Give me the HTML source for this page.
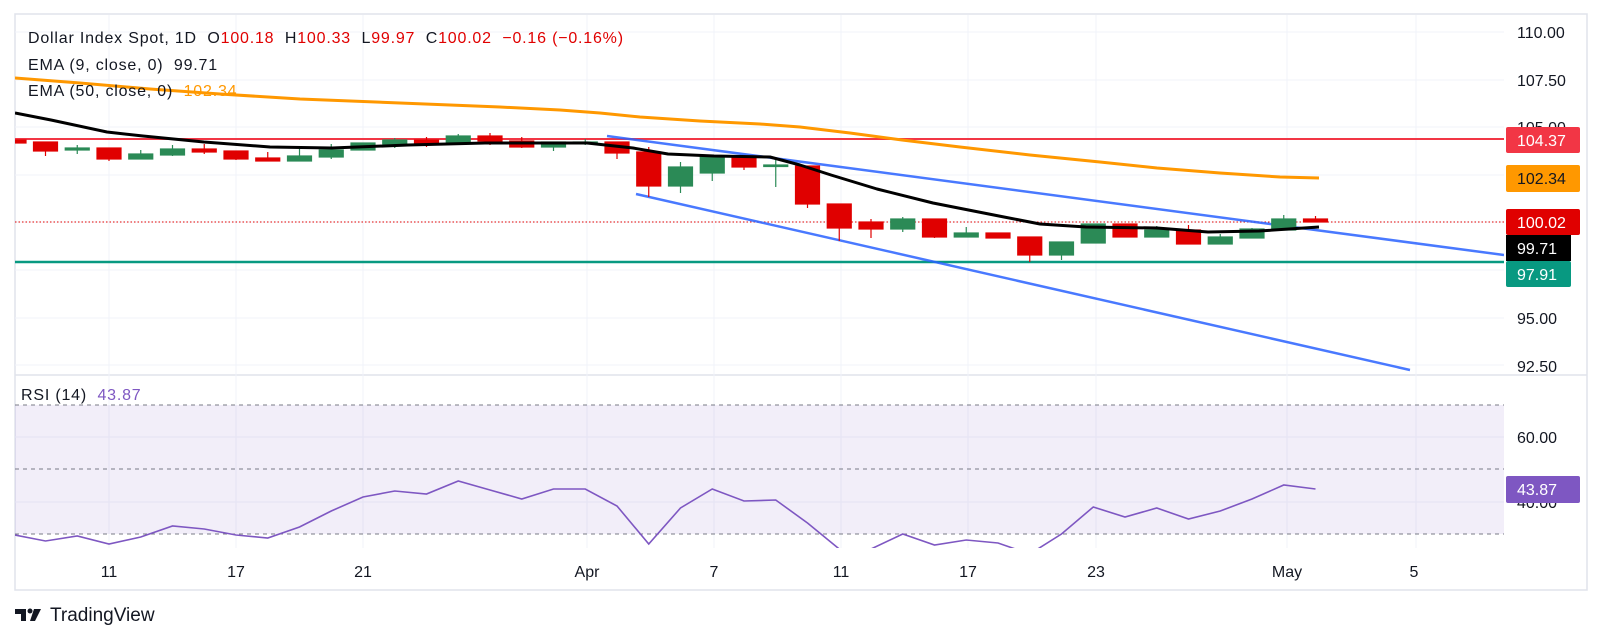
<!DOCTYPE html>
<html><head><meta charset="utf-8"><style>
html,body{margin:0;padding:0;background:#fff;width:1602px;height:644px;overflow:hidden}
svg{display:block;font-family:"Liberation Sans",sans-serif}
</style></head><body>
<svg width="1602" height="644" viewBox="0 0 1602 644" xmlns="http://www.w3.org/2000/svg">
<defs>
<clipPath id="pc"><rect x="15" y="14" width="1489" height="361"/></clipPath>
<clipPath id="rc"><rect x="15" y="376" width="1489" height="172"/></clipPath>
</defs>
<rect x="15" y="14" width="1572" height="576" fill="#fff" stroke="#e0e3eb" stroke-width="1.5"/>
<line x1="15" y1="375" x2="1587" y2="375" stroke="#e0e3eb" stroke-width="1.5"/>
<g stroke="#f0f3fa" stroke-width="1">
<line x1="15" y1="32" x2="1504" y2="32"/><line x1="15" y1="80" x2="1504" y2="80"/>
<line x1="15" y1="127" x2="1504" y2="127"/><line x1="15" y1="175" x2="1504" y2="175"/>
<line x1="15" y1="222" x2="1504" y2="222"/><line x1="15" y1="270" x2="1504" y2="270"/>
<line x1="15" y1="318" x2="1504" y2="318"/><line x1="15" y1="365" x2="1504" y2="365"/>
<line x1="15" y1="437" x2="1504" y2="437"/><line x1="15" y1="502" x2="1504" y2="502"/>
<line x1="109" y1="15" x2="109" y2="548"/><line x1="236" y1="15" x2="236" y2="548"/>
<line x1="363" y1="15" x2="363" y2="548"/><line x1="587" y1="15" x2="587" y2="548"/>
<line x1="714" y1="15" x2="714" y2="548"/><line x1="841" y1="15" x2="841" y2="548"/>
<line x1="968" y1="15" x2="968" y2="548"/><line x1="1096" y1="15" x2="1096" y2="548"/>
<line x1="1287" y1="15" x2="1287" y2="548"/><line x1="1416" y1="15" x2="1416" y2="548"/>
</g>
<g clip-path="url(#pc)">
<line x1="15" y1="139" x2="1504" y2="139" stroke="#f23645" stroke-width="2"/>
<line x1="15" y1="262" x2="1504" y2="262" stroke="#089981" stroke-width="2.5"/>
<line x1="15" y1="222" x2="1504" y2="222" stroke="#e00000" stroke-width="1" stroke-dasharray="1.5,2"/>
<polyline fill="none" stroke="#ff9800" stroke-width="3" stroke-linejoin="round" points="15,78 80,83 150,89 220,94 300,99 400,103 500,107 560,110 600,113 640,117 700,121 760,124 800,127 850,133 902,140 960,147 1030,155 1100,162 1157,168 1220,173 1280,177 1319,178"/>
<line x1="607" y1="136" x2="1504" y2="255" stroke="#2962ff" stroke-opacity="0.85" stroke-width="2.5"/>
<line x1="636" y1="194" x2="1410" y2="370" stroke="#2962ff" stroke-opacity="0.85" stroke-width="2.5"/>
<g stroke-width="1.2">
<g fill="#e00000" stroke="#e00000">
<rect x="2" y="140" width="24" height="3"/>
<line x1="45.5" y1="142" x2="45.5" y2="156"/><rect x="33.5" y="142" width="24" height="9"/>
<line x1="109" y1="148" x2="109" y2="161"/><rect x="97" y="148" width="24" height="11"/>
<line x1="204.25" y1="144" x2="204.25" y2="154"/><rect x="192.25" y="149" width="24" height="3"/>
<line x1="236" y1="151" x2="236" y2="160"/><rect x="224" y="151" width="24" height="8"/>
<line x1="267.75" y1="152" x2="267.75" y2="161"/><rect x="255.75" y="158" width="24" height="3"/>
<line x1="426.5" y1="137" x2="426.5" y2="147"/><rect x="414.5" y="140" width="24" height="3"/>
<line x1="490" y1="133" x2="490" y2="145"/><rect x="478" y="136" width="24" height="5"/>
<line x1="521.75" y1="137" x2="521.75" y2="148"/><rect x="509.75" y="141" width="24" height="6"/>
<line x1="617" y1="142" x2="617" y2="159"/><rect x="605" y="142" width="24" height="11"/>
<line x1="648.75" y1="147" x2="648.75" y2="197"/><rect x="636.75" y="152" width="24" height="34"/>
<line x1="744" y1="156" x2="744" y2="170"/><rect x="732" y="156" width="24" height="11"/>
<line x1="807.5" y1="166" x2="807.5" y2="208"/><rect x="795.5" y="166" width="24" height="38"/>
<line x1="839.25" y1="204" x2="839.25" y2="241"/><rect x="827.25" y="204" width="24" height="24"/>
<line x1="871" y1="219" x2="871" y2="238"/><rect x="859" y="222" width="24" height="7"/>
<line x1="934.5" y1="219" x2="934.5" y2="238"/><rect x="922.5" y="219" width="24" height="18"/>
<rect x="986" y="233" width="24" height="5"/>
<line x1="1029.75" y1="237" x2="1029.75" y2="262"/><rect x="1017.75" y="237" width="24" height="18"/>
<rect x="1113" y="224" width="24" height="13"/>
<line x1="1188.5" y1="225" x2="1188.5" y2="244"/><rect x="1176.5" y="230" width="24" height="14"/>
<line x1="1315.5" y1="216" x2="1315.5" y2="222"/><rect x="1303.5" y="219" width="24" height="3"/>
</g>
<g fill="#2b8a56" stroke="#2b8a56">
<line x1="77.25" y1="145" x2="77.25" y2="154"/><rect x="65.25" y="148" width="24" height="2"/>
<line x1="140.75" y1="150" x2="140.75" y2="159"/><rect x="128.75" y="154" width="24" height="5"/>
<line x1="172.5" y1="145" x2="172.5" y2="156"/><rect x="160.5" y="149" width="24" height="6"/>
<line x1="299.5" y1="148" x2="299.5" y2="161"/><rect x="287.5" y="156" width="24" height="5"/>
<line x1="331.25" y1="144" x2="331.25" y2="159"/><rect x="319.25" y="150" width="24" height="7"/>
<rect x="351" y="143" width="24" height="7"/>
<line x1="394.75" y1="138" x2="394.75" y2="148"/><rect x="382.75" y="140" width="24" height="4"/>
<line x1="458.25" y1="134" x2="458.25" y2="143"/><rect x="446.25" y="136" width="24" height="7"/>
<line x1="553.5" y1="142" x2="553.5" y2="151"/><rect x="541.5" y="142" width="24" height="5"/>
<line x1="585.25" y1="139" x2="585.25" y2="145"/><rect x="573.25" y="142" width="24" height="1.5"/>
<line x1="680.5" y1="162" x2="680.5" y2="193"/><rect x="668.5" y="167" width="24" height="19"/>
<line x1="712.25" y1="156" x2="712.25" y2="181"/><rect x="700.25" y="156" width="24" height="17"/>
<line x1="775.75" y1="160" x2="775.75" y2="187"/><rect x="763.75" y="165" width="24" height="1.5"/>
<line x1="902.75" y1="217" x2="902.75" y2="232"/><rect x="890.75" y="219" width="24" height="10"/>
<line x1="966.25" y1="227" x2="966.25" y2="237"/><rect x="954.25" y="233" width="24" height="4"/>
<line x1="1061.5" y1="242" x2="1061.5" y2="260"/><rect x="1049.5" y="242" width="24" height="13"/>
<rect x="1081.25" y="224" width="24" height="19"/>
<line x1="1156.75" y1="226" x2="1156.75" y2="237"/><rect x="1144.75" y="230" width="24" height="7"/>
<line x1="1220.25" y1="234" x2="1220.25" y2="244"/><rect x="1208.25" y="237" width="24" height="7"/>
<line x1="1252" y1="228" x2="1252" y2="238"/><rect x="1240" y="229" width="24" height="9"/>
<line x1="1283.75" y1="215" x2="1283.75" y2="230"/><rect x="1271.75" y="219" width="24" height="11"/>
</g>
</g>
<polyline fill="none" stroke="#000" stroke-width="3" stroke-linejoin="round" points="15,113 51,120 107,132 143,136 204,142 270,147 332,148 408,145 485,143 587,143 633,148 668,154 714,156 770,157 800,165 831,175 877,189 933,203 1004,217 1040,224 1086,227 1157,228 1208,232 1259,231 1319,227"/>
</g>
<rect x="15" y="405" width="1489" height="129" fill="#7e57c2" fill-opacity="0.1"/>
<g stroke="#787b86" stroke-width="1" stroke-dasharray="4,4">
<line x1="15" y1="405" x2="1504" y2="405"/><line x1="15" y1="469" x2="1504" y2="469"/><line x1="15" y1="534" x2="1504" y2="534"/>
</g>
<g clip-path="url(#rc)">
<polyline fill="none" stroke="#7e57c2" stroke-width="1.6" points="15,535 45.5,541 77.25,536 109,544 140.75,537 172.5,526 204.25,529 236,535 267.75,538 299.5,527 331.25,511 363,497 394.75,491 426.5,494 458.25,481 490,490 521.75,499 553.5,489 585.25,489 617,506 648.75,544 680.5,508 712.25,489 744,501 775.75,500 807.5,523 839.25,549 871,549 902.75,534 934.5,545 966.25,540 998,543 1029.75,554 1061.5,534 1093.25,507 1125,517 1156.75,508 1188.5,519 1220.25,511 1252,499 1283.75,485 1315.5,489"/>
</g>
<g font-size="16" fill="#131722" letter-spacing="0.8">
<text x="28" y="43">Dollar Index Spot, 1D&#160; O<tspan fill="#e00000">100.18</tspan>&#160; H<tspan fill="#e00000">100.33</tspan>&#160; L<tspan fill="#e00000">99.97</tspan>&#160; C<tspan fill="#e00000">100.02</tspan>&#160; <tspan fill="#e00000">−0.16 (−0.16%)</tspan></text>
<text x="28" y="70">EMA (9, close, 0)&#160; 99.71</text>
<text x="28" y="96">EMA (50, close, 0)&#160; <tspan fill="#ff9800">102.34</tspan></text>
<text x="21" y="400">RSI (14)&#160; <tspan fill="#7e57c2">43.87</tspan></text>
</g>
<g font-size="16" fill="#131722">
<text x="1517" y="38">110.00</text>
<text x="1517" y="86">107.50</text>
<text x="1517" y="133">105.00</text>
<text x="1517" y="324">95.00</text>
<text x="1517" y="372">92.50</text>
<text x="1517" y="443">60.00</text>
<text x="1517" y="508">40.00</text>
</g>
<rect x="1506" y="127" width="74" height="26" rx="2" fill="#f23645"/>
<text x="1517" y="146" font-size="16" fill="#fff">104.37</text>
<rect x="1506" y="165" width="74" height="27" rx="2" fill="#ff9800"/>
<text x="1517" y="184" font-size="16" fill="#131722">102.34</text>
<rect x="1506" y="209" width="74" height="26" rx="2" fill="#e00000"/>
<text x="1517" y="228" font-size="16" fill="#fff">100.02</text>
<rect x="1506" y="235" width="65" height="26" fill="#000"/>
<text x="1517" y="254" font-size="16" fill="#fff">99.71</text>
<rect x="1506" y="261" width="65" height="26" rx="2" fill="#089981"/>
<text x="1517" y="280" font-size="16" fill="#fff">97.91</text>
<rect x="1506" y="476" width="74" height="27" rx="2" fill="#7e57c2"/>
<text x="1517" y="495" font-size="16" fill="#fff">43.87</text>
<g font-size="16" fill="#131722" text-anchor="middle">
<text x="109" y="577">11</text><text x="236" y="577">17</text><text x="363" y="577">21</text>
<text x="587" y="577">Apr</text><text x="714" y="577">7</text><text x="841" y="577">11</text>
<text x="968" y="577">17</text><text x="1096" y="577">23</text><text x="1287" y="577">May</text>
<text x="1414" y="577">5</text>
</g>
<g fill="#131722">
<path d="M15 609 h11 v12 h-5 v-7 h-6 z"/>
<circle cx="30" cy="611" r="2.5"/>
<path d="M34 609 h7 l-6 12 h-5 z"/>
<text x="50" y="621" font-size="19">TradingView</text>
</g>
</svg>
</body></html>
